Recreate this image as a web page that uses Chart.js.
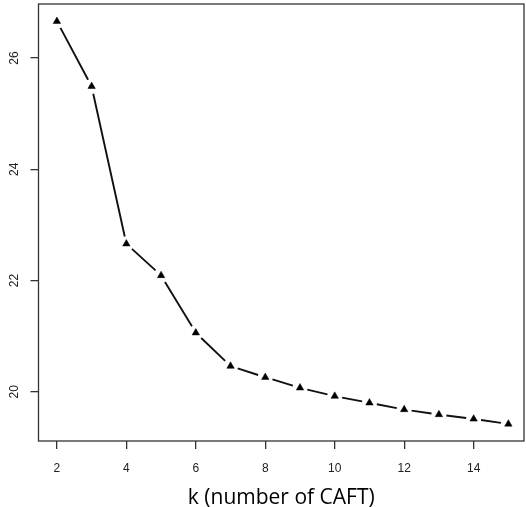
<!DOCTYPE html>
<html>
<head>
<meta charset="utf-8">
<script src="https://cdn.jsdelivr.net/npm/chart.js@4.4.0/dist/chart.umd.min.js"></script>
<style>
  html, body { margin: 0; padding: 0; background: #fff; }
  #wrap { width: 526px; height: 507px; }
</style>
</head>
<body>
<div id="wrap"><canvas id="elbow" width="526" height="507"></canvas></div>
<script>
// values
const kValues = [2, 3, 4, 5, 6, 7, 8, 9, 10, 11, 12, 13, 14, 15];
const costValues = [26.66, 25.49, 22.66, 22.09, 21.06, 20.46, 20.26, 20.07, 19.92, 19.80, 19.68, 19.59, 19.51, 19.42];
const xTicks = [2, 4, 6, 8, 10, 12, 14];
const yTicks = [20, 22, 24, 26];
const xTitle = "k (number of CAFT)";

const points = kValues.map((k, i) => ({ x: k, y: costValues[i] }));

// type="b" style: segments between points, stopped short of each marker
const GAP = 7.5;
const gapLine = {
  id: "gapLine",
  beforeDatasetsDraw(chart) {
    const { ctx, scales: { x, y } } = chart;
    const px = points.map((p) => [x.getPixelForValue(p.x), y.getPixelForValue(p.y)]);
    ctx.save();
    ctx.strokeStyle = "#111";
    ctx.lineWidth = 1.9;
    ctx.lineCap = "butt";
    ctx.beginPath();
    for (let i = 0; i < px.length - 1; i++) {
      const [x0, y0] = px[i];
      const [x1, y1] = px[i + 1];
      const d = Math.hypot(x1 - x0, y1 - y0);
      if (d <= 2 * GAP) continue;
      const ux = (x1 - x0) / d, uy = (y1 - y0) / d;
      ctx.moveTo(x0 + ux * GAP, y0 + uy * GAP);
      ctx.lineTo(x1 - ux * GAP, y1 - uy * GAP);
    }
    ctx.stroke();
    ctx.restore();
  }
};

// R-style plot frame around the chart area
const boxPlugin = {
  id: "box",
  afterDraw(chart) {
    const { ctx, chartArea: a } = chart;
    ctx.save();
    ctx.strokeStyle = "#333";
    ctx.lineWidth = 1.3;
    ctx.strokeRect(a.left, a.top, a.right - a.left, a.bottom - a.top);
    ctx.restore();
  }
};

const tickFont = { family: "'Liberation Sans', Arial, sans-serif", size: 12 };
const gridOpts = { display: true, drawOnChartArea: false, drawTicks: true, tickLength: 8, color: "#333", lineWidth: 1.3 };

new Chart(document.getElementById("elbow"), {
  type: "scatter",
  data: {
    datasets: [
      { data: points, showLine: false, pointStyle: "triangle", pointRadius: 4.3, pointBackgroundColor: "#000", pointBorderColor: "#000", pointBorderWidth: 0.5 }
    ]
  },
  options: {
    responsive: false,
    animation: false,
    devicePixelRatio: 1,
    layout: { autoPadding: false, padding: { top: 4, right: 2, left: 0, bottom: 0 } },
    plugins: { legend: { display: false }, tooltip: { enabled: false } },
    scales: {
      x: {
        type: "linear",
        min: 1.47,
        max: 15.45,
        afterBuildTicks: (s) => { s.ticks = xTicks.map((v) => ({ value: v })); },
        afterFit: (s) => { s.height = 66; s.paddingLeft = 0; s.paddingRight = 0; },
        grid: gridOpts,
        border: { display: false },
        ticks: { font: tickFont, color: "#222", padding: 12, maxRotation: 0, autoSkip: false },
        title: {
          display: true,
          text: xTitle,
          color: "#000",
          font: { family: "'Open Sans', sans-serif", size: 21, lineHeight: 0.9 },
          padding: { top: 0, bottom: 0 }
        }
      },
      y: {
        type: "linear",
        min: 19.114,
        max: 26.971,
        afterBuildTicks: (s) => { s.ticks = yTicks.map((v) => ({ value: v })); },
        afterFit: (s) => { s.width = 38.5; s.paddingTop = 0; s.paddingBottom = 0; },
        grid: gridOpts,
        border: { display: false },
        ticks: { font: tickFont, color: "#222", padding: 9, minRotation: 90, maxRotation: 90, crossAlign: "center", autoSkip: false }
      }
    }
  },
  plugins: [gapLine, boxPlugin]
});
</script>
</body>
</html>
